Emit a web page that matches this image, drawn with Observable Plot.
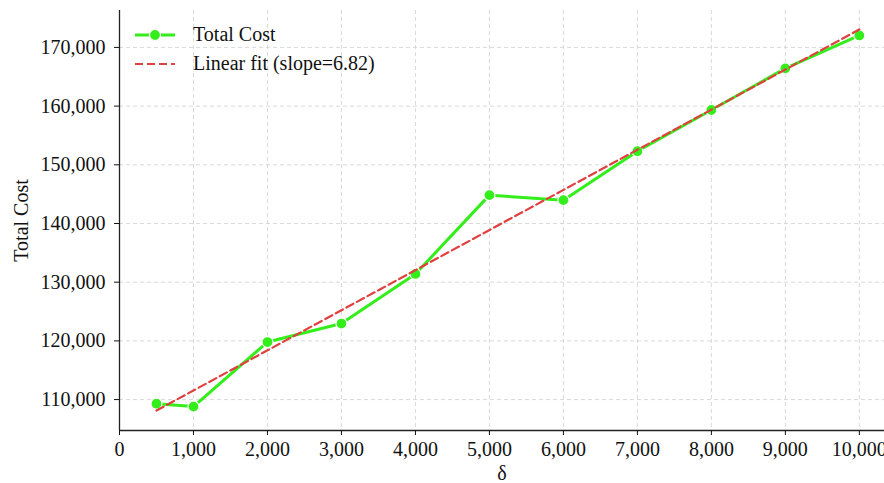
<!DOCTYPE html>
<html>
<head>
<meta charset="utf-8">
<script src="https://cdn.jsdelivr.net/npm/d3@7"></script>
<script src="https://cdn.jsdelivr.net/npm/@observablehq/plot@0.6"></script>
<style>
  body { margin: 0; background: #fff; }
  #wrap { position: relative; width: 884px; height: 483px; font-family: "Liberation Serif", "Times New Roman", serif; }
  #legend { position: absolute; left: 133px; top: 20px; font-size: 20px; color: #111; }
  .row { display: flex; align-items: center; height: 29px; }
  .row svg { margin-right: 16px; }
</style>
</head>
<body>
<div id="wrap">
  <div id="chart"></div>
  <div id="legend">
    <div class="row">
      <svg width="44" height="14"><line x1="2" x2="42" y1="7" y2="7" stroke="#33ee1a" stroke-width="3"/><circle cx="22" cy="7" r="5.5" fill="#33ee1a" stroke="#fff" stroke-width="1.2"/></svg>
      <span id="lab1"></span>
    </div>
    <div class="row">
      <svg width="44" height="14"><line x1="2" x2="42" y1="7" y2="7" stroke="#e04040" stroke-width="2.2" stroke-dasharray="8,4"/></svg>
      <span id="lab2"></span>
    </div>
  </div>
</div>
<script>
const deltas = [500, 1000, 2000, 3000, 4000, 5000, 6000, 7000, 8000, 9000, 10000];
const totalCost = [109300, 108800, 119800, 122950, 131400, 144830, 143980, 152310, 159340, 166430, 172040];
const xTicks = [0, 1000, 2000, 3000, 4000, 5000, 6000, 7000, 8000, 9000, 10000];
const yTicks = [110000, 120000, 130000, 140000, 150000, 160000, 170000];
const seriesLabel = "Total Cost";
const fitLabel = "Linear fit (slope=6.82)";
const xLabel = "δ";
const yLabel = "Total Cost";
const xDomain = [0, 10340];
const yDomain = [104730, 176290];

document.getElementById("lab1").textContent = seriesLabel;
document.getElementById("lab2").textContent = fitLabel;

const data = deltas.map((d, i) => ({delta: d, cost: totalCost[i]}));
const fmt = d3.format(",");
const green = "#33ee1a";
const red = "#e04040";

const chart = Plot.plot({
  width: 884,
  height: 483,
  marginLeft: 119,
  marginRight: 0,
  marginTop: 10,
  marginBottom: 53,
  style: { fontFamily: "Liberation Serif, Times New Roman, serif", fontSize: "20px", color: "#111", background: "#fff" },
  x: { domain: xDomain },
  y: { domain: yDomain },
  marks: [
    Plot.gridX(xTicks, { stroke: "#cfcfcf", strokeOpacity: 1, strokeDasharray: "4,3", strokeWidth: 0.8 }),
    Plot.gridY(yTicks, { stroke: "#cfcfcf", strokeOpacity: 1, strokeDasharray: "4,3", strokeWidth: 0.8 }),
    Plot.ruleX([xDomain[0]], { stroke: "#222", strokeWidth: 1.3 }),
    Plot.ruleY([yDomain[0]], { stroke: "#222", strokeWidth: 1.3 }),
    Plot.axisX(xTicks, { tickFormat: fmt, tickSize: 5, tickPadding: 6, label: xLabel, labelAnchor: "center", labelArrow: "none", labelOffset: 49, fontSize: 20 }),
    Plot.axisY(yTicks, { tickFormat: fmt, tickSize: 5, tickPadding: 9, label: yLabel, labelAnchor: "center", labelArrow: "none", labelOffset: 106, fontSize: 20 }),
    Plot.line(data, { x: "delta", y: "cost", stroke: green, strokeWidth: 3 }),
    Plot.dot(data, { x: "delta", y: "cost", r: 5.5, fill: green, stroke: "#fff", strokeWidth: 1.2 }),
    Plot.linearRegressionY(data, { x: "delta", y: "cost", stroke: red, strokeWidth: 2.2, strokeDasharray: "8,4", ci: 0 })
  ]
});
document.getElementById("chart").appendChild(chart);
</script>
</body>
</html>
